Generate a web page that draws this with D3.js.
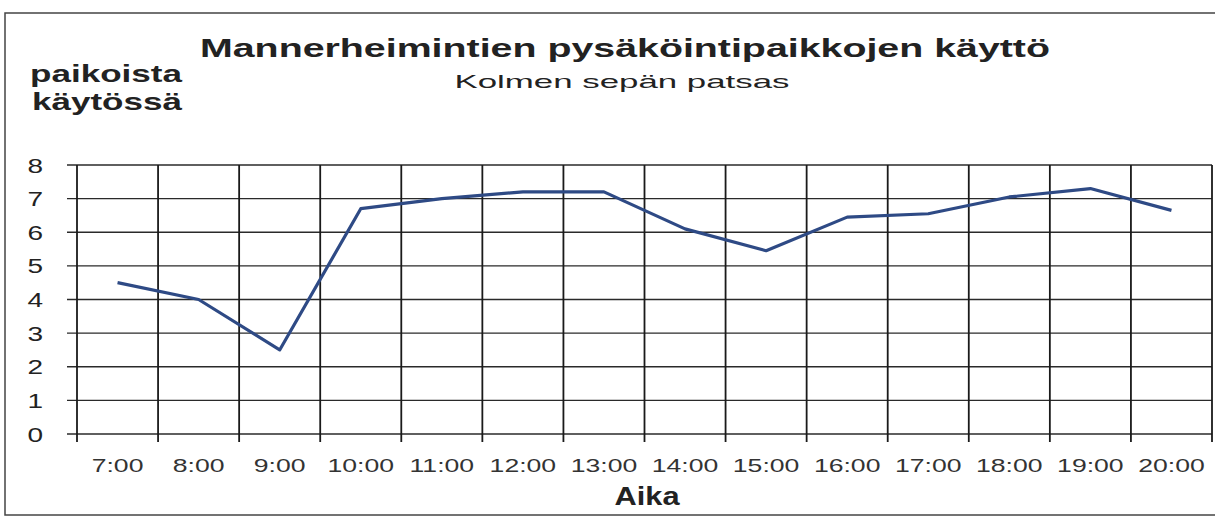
<!DOCTYPE html>
<html>
<head>
<meta charset="utf-8">
<script src="https://cdn.jsdelivr.net/npm/d3@7"></script>
<style>
	body { margin: 0; background: #fff; }
	text { font-family: "Liberation Sans", Arial, sans-serif; fill: #222; }
</style>
</head>
<body>
<div id="chart"></div>
<script>
// Data
// ----
const hours = ["7:00", "8:00", "9:00", "10:00", "11:00", "12:00", "13:00",
	"14:00", "15:00", "16:00", "17:00", "18:00", "19:00", "20:00"];
const occupied = [4.5, 4.0, 2.5, 6.7, 7.0, 7.2, 7.2, 6.1, 5.45, 6.45, 6.55, 7.05, 7.3, 6.65];
const yTicks = [0, 1, 2, 3, 4, 5, 6, 7, 8];

// Dimensions and margins
const W = 1215, H = 519;
const margin = {top: 165, right: 3, bottom: 85, left: 77};
const width = W - margin.left - margin.right;
const height = H - margin.top - margin.bottom;
const stretch = 1.4;  // the scanned chart is wide

const svgRoot = d3.select("#chart").append("svg")
	.attr("width", W)
	.attr("height", H);

// outer frame
svgRoot.append("rect")
	.attr("x", 5).attr("y", 13)
	.attr("width", W + 20).attr("height", 502)
	.attr("fill", "none")
	.attr("stroke", "#444")
	.attr("stroke-width", 1.5);

// Titles
svgRoot.append("text")
	.attr("x", 625).attr("y", 57)
	.style("text-anchor", "middle")
	.style("font-weight", 700)
	.style("font-size", "26px")
	.attr("textLength", 850)
	.attr("lengthAdjust", "spacingAndGlyphs")
	.text("Mannerheimintien pysäköintipaikkojen käyttö");

svgRoot.append("text")
	.attr("x", 622).attr("y", 88)
	.style("text-anchor", "middle")
	.style("font-size", "19px")
	.attr("textLength", 335)
	.attr("lengthAdjust", "spacingAndGlyphs")
	.text("Kolmen sepän patsas");

// y-label, two lines
[["paikoista", 30, 82, 152], ["käytössä", 32, 110, 150]].forEach(([t, lx, ly, len]) => {
	svgRoot.append("text")
		.attr("x", lx).attr("y", ly)
		.style("font-weight", 700)
		.style("font-size", "24px")
		.attr("textLength", len)
		.attr("lengthAdjust", "spacingAndGlyphs")
		.text(t);
});

// x-label
svgRoot.append("text")
	.attr("x", 647).attr("y", 505)
	.style("text-anchor", "middle")
	.style("font-weight", 700)
	.style("font-size", "25px")
	.attr("textLength", 65)
	.attr("lengthAdjust", "spacingAndGlyphs")
	.text("Aika");

const svg = svgRoot.append("g")
	.attr("transform", "translate(" + margin.left + "," + margin.top + ")");

// Ranges
const x = d3.scaleBand()
	.domain(hours)
	.range([0, width]);
const y = d3.scaleLinear()
	.domain([0, 8])
	.range([height, 0]);

// Grid
// ----
svg.selectAll(".hgrid")
	.data(yTicks)
	.join("line")
		.attr("class", "hgrid")
		.attr("x1", -10).attr("x2", width)
		.attr("y1", d => y(d)).attr("y2", d => y(d))
		.attr("stroke", "#2a2a2a")
		.attr("stroke-width", 1.4);

let bounds = hours.map(h => x(h)).concat([width]);
svg.selectAll(".vgrid")
	.data(bounds)
	.join("line")
		.attr("class", "vgrid")
		.attr("x1", d => d).attr("x2", d => d)
		.attr("y1", 0).attr("y2", height + 8)
		.attr("stroke", "#1a1a1a")
		.attr("stroke-width", 1.8);

// Axes (labels only)
// ------------------
const yAxis = svg.append("g")
	.call(d3.axisLeft(y).tickValues(yTicks).tickSize(0));
yAxis.select(".domain").remove();
yAxis.selectAll("text")
	.attr("x", 0)
	.attr("dy", "0.35em")
	.attr("transform", "translate(-34,0) scale(" + stretch + ",1)")
	.style("font-family", "'Liberation Sans', Arial, sans-serif")
	.style("font-size", "20px")
	.style("fill", "#222");

const xAxis = svg.append("g")
	.attr("transform", "translate(0," + height + ")")
	.call(d3.axisBottom(x).tickSize(0));
xAxis.select(".domain").remove();
xAxis.selectAll("text")
	.attr("y", 38)
	.attr("dy", 0)
	.attr("transform", "scale(" + stretch + ",1)")
	.style("font-family", "'Liberation Sans', Arial, sans-serif")
	.style("font-size", "19px")
	.style("fill", "#333");

// Line
// ----
svg.append("path")
	.datum(occupied)
	.attr("fill", "none")
	.attr("stroke", "#2e4a85")
	.attr("stroke-width", 3.2)
	.attr("stroke-linejoin", "round")
	.attr("d", d3.line()
		.x((d, i) => x(hours[i]) + x.bandwidth() / 2)
		.y(d => y(d))
	);
</script>
</body>
</html>
